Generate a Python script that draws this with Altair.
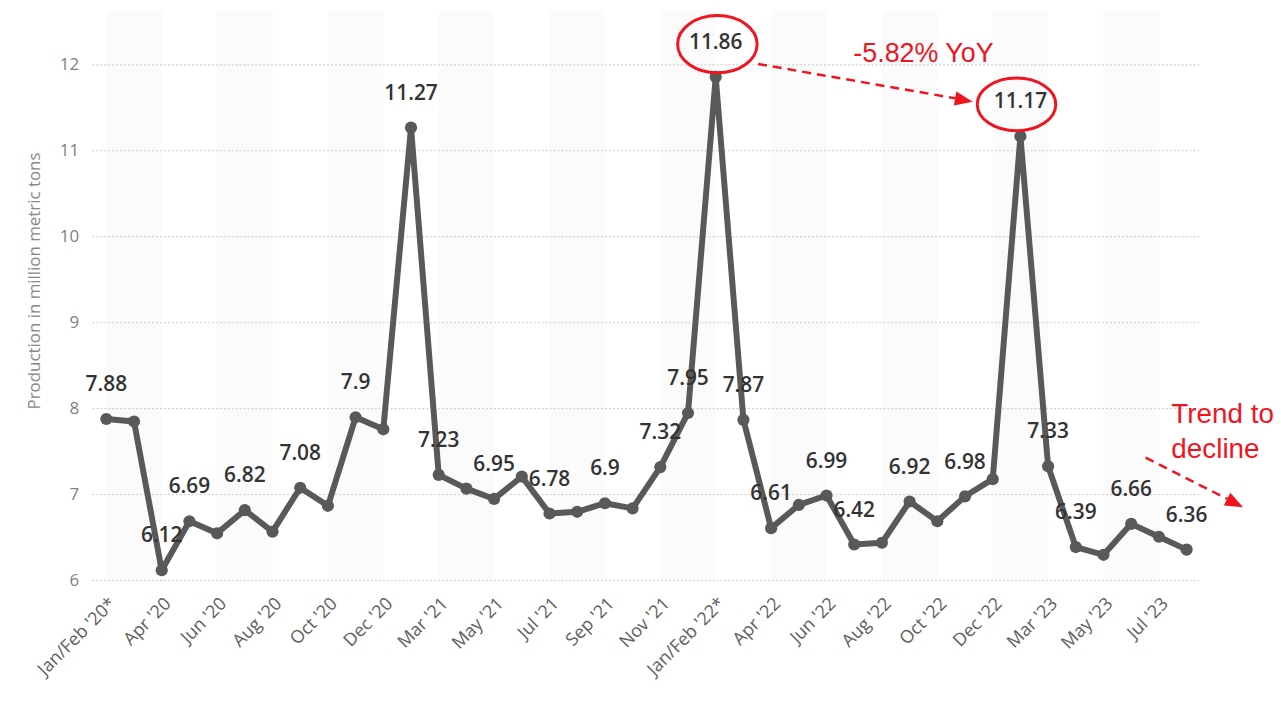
import json
import altair as alt
import pandas as pd

# ---------------- data ----------------
months = ["Jan/Feb '20*", "Mar '20", "Apr '20", "May '20", "Jun '20", "Jul '20", "Aug '20",
          "Sep '20", "Oct '20", "Nov '20", "Dec '20",
          "Jan/Feb '21", "Mar '21", "Apr '21", "May '21", "Jun '21", "Jul '21", "Aug '21",
          "Sep '21", "Oct '21", "Nov '21", "Dec '21",
          "Jan/Feb '22*", "Mar '22", "Apr '22", "May '22", "Jun '22", "Jul '22", "Aug '22",
          "Sep '22", "Oct '22", "Nov '22", "Dec '22",
          "Jan/Feb '23", "Mar '23", "Apr '23", "May '23", "Jun '23", "Jul '23", "Aug '23"]
production = [7.88, 7.85, 6.12, 6.69, 6.55, 6.82, 6.57, 7.08, 6.87, 7.9, 7.76,
              11.27, 7.23, 7.07, 6.95, 7.21, 6.78, 6.8, 6.9, 6.84, 7.32, 7.95,
              11.86, 7.87, 6.61, 6.88, 6.99, 6.42, 6.44, 6.92, 6.69, 6.98, 7.18,
              11.17, 7.33, 6.39, 6.3, 6.66, 6.51, 6.36]
labeled_idx = [0, 2, 3, 5, 7, 9, 11, 12, 14, 16, 18, 20, 21, 22, 23, 24, 26, 27,
               29, 31, 33, 34, 35, 37, 39]
y_ticks = [6, 7, 8, 9, 10, 11, 12]
x_tick_idx = list(range(0, 40, 2))
stripe_start = list(range(0, 40, 4))

# annotations (in data coordinates: month index, value)
ell_x = [22.06, 32.86]
ell_y = [12.24, 11.54]
ell_ratio = [0.72, 0.67]
ell_size = [6400, 6240]
arrow_x = [23.53, 37.52]
arrow_y = [12.01, 7.43]
arrow_x2 = [30.67, 40.47]
arrow_y2 = [11.61, 6.95]
head_x = [30.96, 40.75]
head_y = [11.59, 6.90]
head_angle = [10, 27]
note_text = ["-5.82% YoY"]
note_x = [29.5]
note_y = [12.12]
trend_text = ["Trend to", "decline"]
trend_x = [38.45, 38.45]
trend_y = [7.93, 7.52]

GREY = "#595959"
RED = "#f0141e"

df = pd.DataFrame({"i": list(range(len(months))), "month": months, "value": production})
df["label"] = [str(v) if k in labeled_idx else "" for k, v in enumerate(production)]
lab_df = df[df["label"] != ""]

xs = alt.Scale(domain=[-0.5, 39.5], nice=False, zero=False)
ys = alt.Scale(domain=[6, 12.636], nice=False, zero=False)

label_expr = "%s[datum.value]" % json.dumps(months)

stripes = alt.Chart(pd.DataFrame({"s": stripe_start, "e": [s + 2 for s in stripe_start]})).mark_rect(
    color="#fbfbfb").encode(
    x=alt.X("s:Q", scale=xs),
    x2="e:Q",
    y=alt.value(0),
    y2=alt.value(574),
)

grid = alt.Chart(pd.DataFrame({"t": y_ticks})).mark_rule(
    color="#c8c8c8", strokeDash=[2, 2], strokeWidth=1).encode(
    y=alt.Y("t:Q", scale=ys),
    x=alt.value(0),
    x2=alt.value(1115),
)

base = alt.Chart(df).encode(
    x=alt.X("i:Q", scale=xs,
            axis=alt.Axis(values=x_tick_idx, labelExpr=label_expr, labelAngle=-45,
                          labelAlign="right", labelBaseline="top", labelPadding=14,
                          labelOverlap=False, labelBound=False,
                          labelFont="Open Sans", labelFontSize=18, labelColor="#606060",
                          ticks=False, domain=False, grid=False, title=None)),
    y=alt.Y("value:Q", scale=ys,
            axis=alt.Axis(values=y_ticks, format="d", labelFont="Open Sans", labelFontSize=17,
                          labelColor="#808080", labelPadding=14, ticks=False, domain=False,
                          grid=False, title="Production in million metric tons",
                          titleFont="Open Sans", titleFontSize=17, titleFontWeight="normal",
                          titleColor="#888888", titlePadding=16, titleY=272)),
)

line = base.mark_line(color=GREY, strokeWidth=6, strokeJoin="round", strokeCap="round")
pts = base.mark_circle(color=GREY, size=150, opacity=1)

labels = alt.Chart(lab_df).mark_text(
    font="Open Sans", fontSize=21, fontWeight=600, color="#333333",
    baseline="middle", dy=-34).encode(
    x=alt.X("i:Q", scale=xs), y=alt.Y("value:Q", scale=ys), text="label:N")

k = 0.5523


def ell_path(b):
    return ("M1,0 C1,{kb} {k},{b} 0,{b} C{nk},{b} -1,{kb} -1,0 C-1,{nkb} {nk},{nb} 0,{nb} "
            "C{k},{nb} 1,{nkb} 1,0 Z").format(k=k, nk=-k, b=b, nb=-b, kb=k * b, nkb=-k * b)


ell_df = pd.DataFrame({"x": ell_x, "y": ell_y, "shape": [ell_path(r) for r in ell_ratio],
                       "size": ell_size})
ellipses = alt.Chart(ell_df).mark_point(filled=False, color=RED, strokeWidth=3, opacity=1).encode(
    x=alt.X("x:Q", scale=xs), y=alt.Y("y:Q", scale=ys),
    shape=alt.Shape("shape:N", scale=None),
    size=alt.Size("size:Q", scale=None),
)

arr_df = pd.DataFrame({"x": arrow_x, "y": arrow_y, "x2": arrow_x2, "y2": arrow_y2})
arrows = alt.Chart(arr_df).mark_rule(color=RED, strokeWidth=2.5, strokeDash=[9, 6]).encode(
    x=alt.X("x:Q", scale=xs), y=alt.Y("y:Q", scale=ys), x2="x2:Q", y2="y2:Q")

head_df = pd.DataFrame({"x": head_x, "y": head_y, "a": head_angle})
heads = alt.Chart(head_df).mark_point(
    shape="M-1,-0.8 L1,0 L-1,0.8 Z", filled=True, color=RED, size=324, opacity=1).encode(
    x=alt.X("x:Q", scale=xs), y=alt.Y("y:Q", scale=ys),
    angle=alt.Angle("a:Q", scale=None))

note = alt.Chart(pd.DataFrame({"x": note_x, "y": note_y, "t": note_text})).mark_text(
    font="Liberation Sans", fontSize=27, color=RED, align="center", baseline="middle").encode(
    x=alt.X("x:Q", scale=xs), y=alt.Y("y:Q", scale=ys), text="t:N")

trend = alt.Chart(pd.DataFrame({"x": trend_x, "y": trend_y, "t": trend_text})).mark_text(
    font="Liberation Sans", fontSize=28, color=RED, align="left", baseline="middle").encode(
    x=alt.X("x:Q", scale=xs), y=alt.Y("y:Q", scale=ys), text="t:N")

chart = alt.layer(stripes, grid, line, pts, labels, ellipses, arrows, heads, note, trend).properties(
    width=1115, height=574,
    autosize=alt.AutoSizeParams(type="none"),
    padding={"left": 85, "top": 0, "right": 73, "bottom": 121},
    background="white",
).configure_view(stroke=None)

chart.save("out.html", embed_options={"renderer": "svg", "actions": False})
